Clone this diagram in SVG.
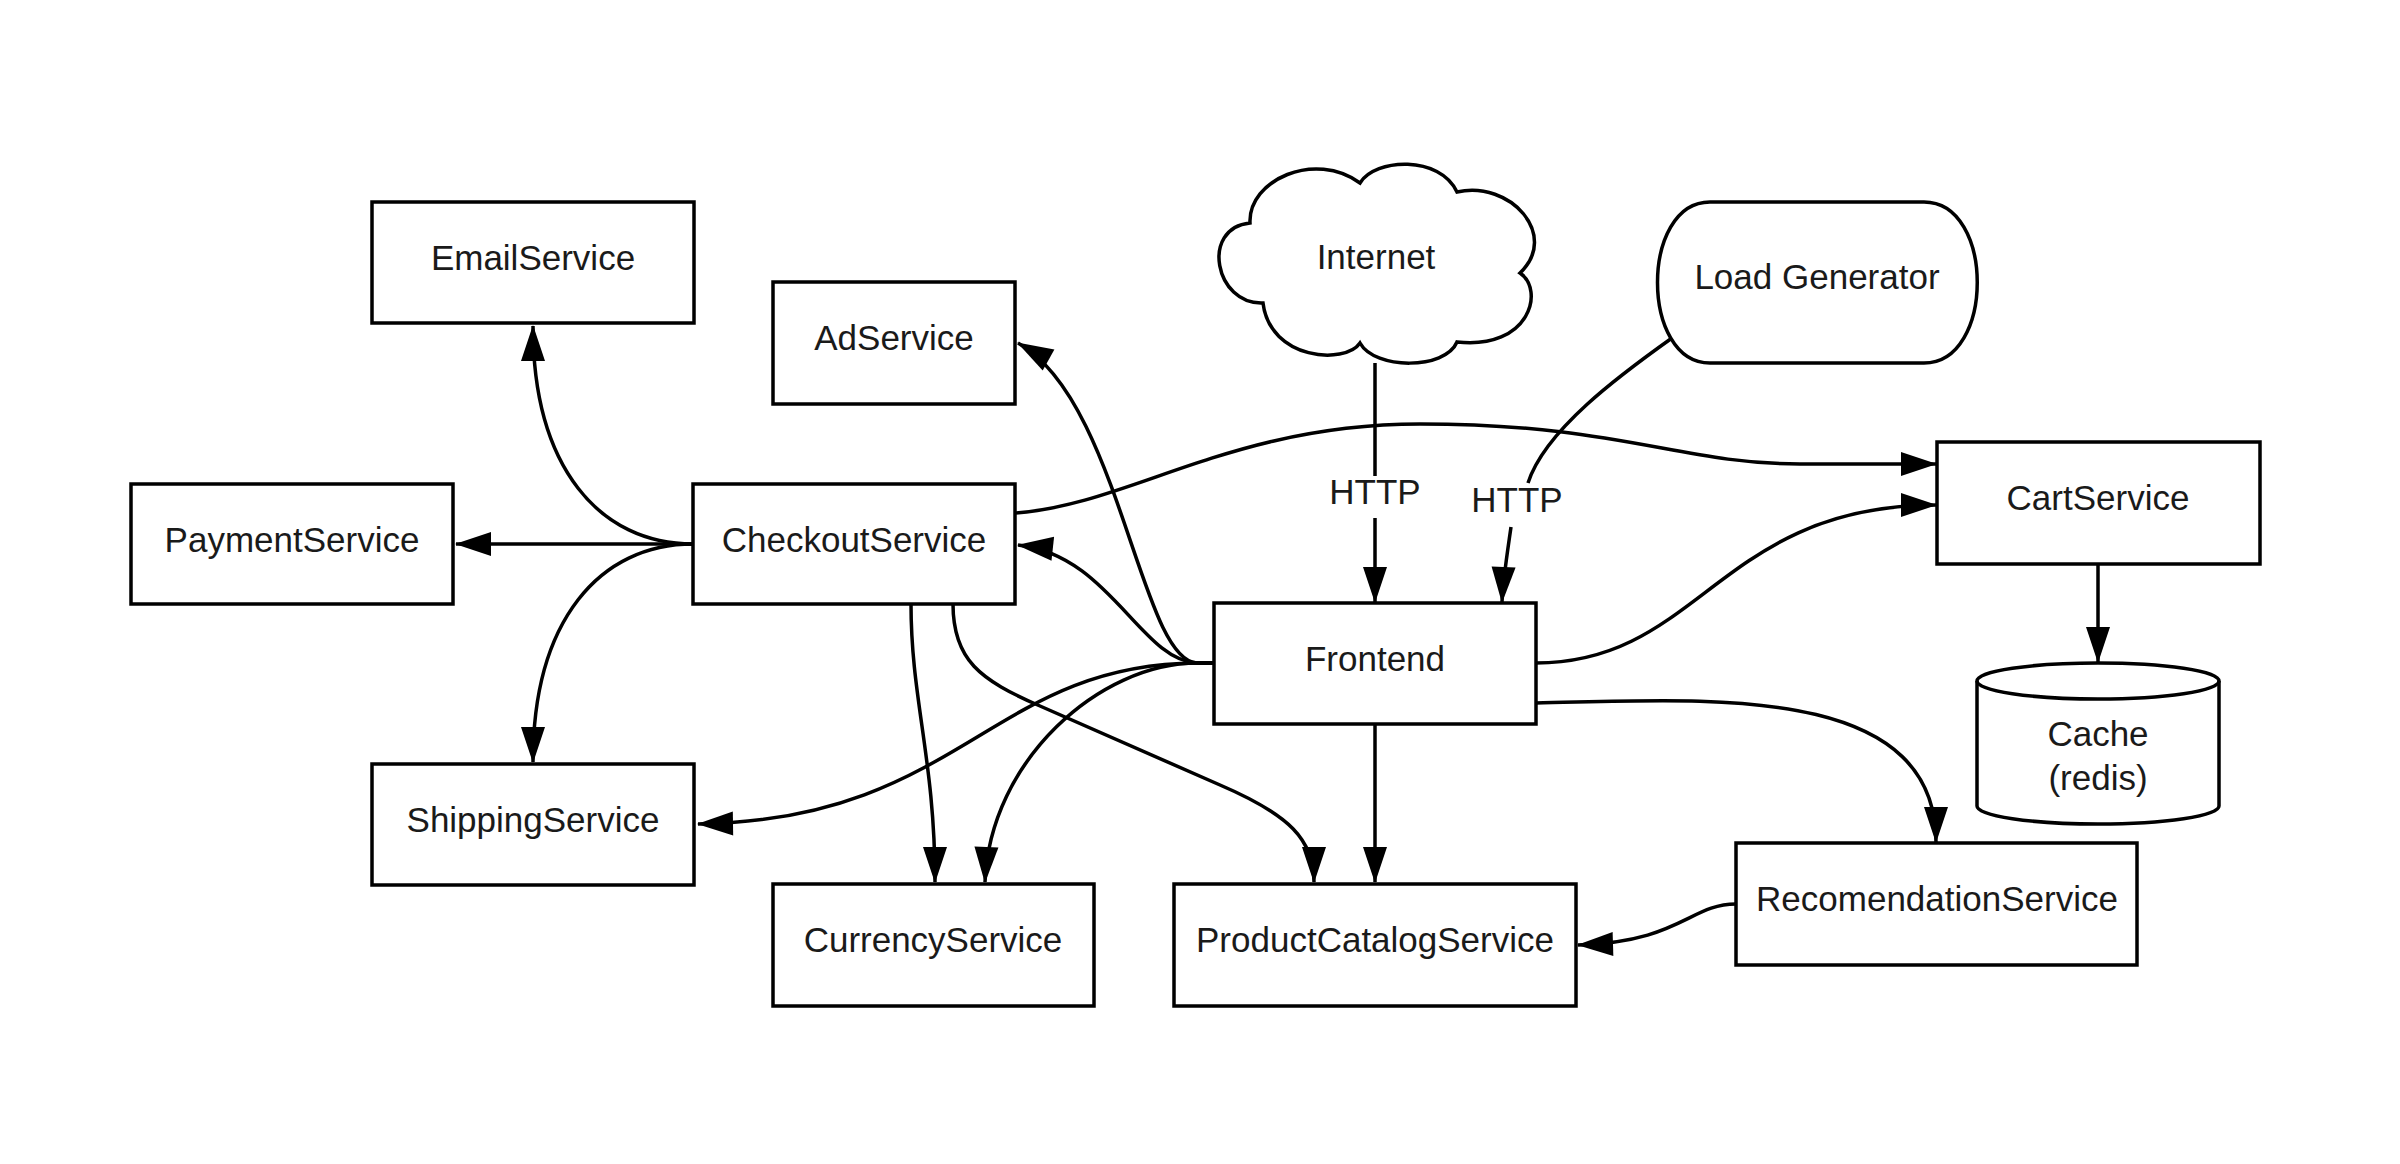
<svg xmlns="http://www.w3.org/2000/svg" width="2400" height="1164" viewBox="0 0 2400 1164">
<style>
.box{fill:#fff;stroke:#000;stroke-width:3.5}
.lbl{font-family:"Liberation Sans",Arial,sans-serif;font-size:35px;fill:#1a1a1a;text-anchor:middle}
.edge{fill:none;stroke:#000;stroke-width:3.5}
.arr{marker-end:url(#ah)}
</style>
<defs>
<marker id="ah" markerUnits="userSpaceOnUse" markerWidth="36" markerHeight="24" refX="35" refY="12" orient="auto" overflow="visible">
<path d="M0,0 L36,12 L0,24 Z" fill="#000"/>
</marker>
</defs>
<rect width="2400" height="1164" fill="#fff"/>
<g id="connectors">
<path class="edge arr" d="M693,544 C600,544 533,468 533,326"/>
<path class="edge arr" d="M693,544 L456,544"/>
<path class="edge arr" d="M693,544 C600,544 533,620 533,762"/>
<path class="edge arr" d="M1214,663 L1197,663 C1140,660 1120,400 1018,343"/>
<path class="edge arr" d="M1214,663 L1197,663 C1140,660 1110,555 1018,545"/>
<path class="edge arr" d="M1214,663 L1197,663 C990,664 960,820 698,824"/>
<path class="edge arr" d="M1214,663 L1197,663 C1100,663 990,760 985,882"/>
<path class="edge arr" d="M911,604 C911,700 935,760 935,882"/>
<path class="edge arr" d="M953,604 C953,660 980,680 1040,706 L1220,785 C1290,815 1314,840 1314,882"/>
<path class="edge arr" d="M1375,724 L1375,882"/>
<path class="edge arr" d="M1536,663 C1700,663 1720,505 1936,505"/>
<path class="edge arr" d="M1015,513 C1130,505 1230,424 1420,424 C1620,424 1680,464 1800,464 L1936,464"/>
<path class="edge arr" d="M2098,564 L2098,662"/>
<path class="edge arr" d="M1536,703 C1700,700 1936,680 1936,842"/>
<path class="edge arr" d="M1736,904 C1690,904 1680,942 1578,945"/>
<path class="edge arr" d="M1375,363 L1375,476 M1375,518 L1375,602"/>
<path class="edge arr" d="M1672,338 C1620,375 1545,430 1528,483 M1511,527 C1507,555 1503,580 1502,602"/>
<text class="lbl" x="1375" y="504">HTTP</text>
<text class="lbl" x="1517" y="512">HTTP</text>
</g>
<g id="EmailService"><rect class="box" x="372" y="202" width="322" height="121"/><text class="lbl" x="533" y="270">EmailService</text></g>
<g id="AdService"><rect class="box" x="773" y="282" width="242" height="122"/><text class="lbl" x="894" y="350">AdService</text></g>
<g id="PaymentService"><rect class="box" x="131" y="484" width="322" height="120"/><text class="lbl" x="292" y="552">PaymentService</text></g>
<g id="CheckoutService"><rect class="box" x="693" y="484" width="322" height="120"/><text class="lbl" x="854" y="552">CheckoutService</text></g>
<g id="ShippingService"><rect class="box" x="372" y="764" width="322" height="121"/><text class="lbl" x="533" y="832">ShippingService</text></g>
<g id="CurrencyService"><rect class="box" x="773" y="884" width="321" height="122"/><text class="lbl" x="933" y="952">CurrencyService</text></g>
<g id="ProductCatalogService"><rect class="box" x="1174" y="884" width="402" height="122"/><text class="lbl" x="1375" y="952">ProductCatalogService</text></g>
<g id="Frontend"><rect class="box" x="1214" y="603" width="322" height="121"/><text class="lbl" x="1375" y="671">Frontend</text></g>
<g id="CartService"><rect class="box" x="1937" y="442" width="323" height="122"/><text class="lbl" x="2098" y="510">CartService</text></g>
<g id="RecomendationService"><rect class="box" x="1736" y="843" width="401" height="122"/><text class="lbl" x="1937" y="911">RecomendationService</text></g>
<g id="Internet">
<path class="box" d="M1250,223 C1248,180 1315,150 1360,183 C1375,158 1440,155 1457,192 C1510,180 1560,235 1520,273 C1545,290 1530,350 1457,342 C1445,370 1375,370 1360,343 C1345,365 1270,360 1263,303 C1215,305 1200,228 1250,223 Z"/>
<text class="lbl" x="1376" y="269">Internet</text>
</g>
<g id="LoadGenerator">
<path class="box" d="M1710,202 H1924 C1995,202 1995,363 1924,363 H1710 C1640,363 1640,202 1710,202 Z"/>
<text class="lbl" x="1817" y="289">Load Generator</text>
</g>
<g id="Cache">
<path class="box" d="M1977,681 A121,18 0 0 1 2219,681 L2219,806 A121,18 0 0 1 1977,806 Z"/>
<path class="edge" d="M1977,681 A121,18 0 0 0 2219,681"/>
<text class="lbl" x="2098" y="746">Cache</text>
<text class="lbl" x="2098" y="790">(redis)</text>
</g>
</svg>
